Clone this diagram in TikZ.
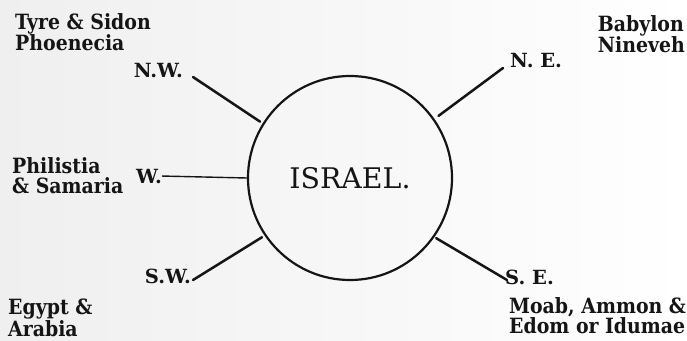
\documentclass[tikz,border=0pt]{standalone}
\usepackage{fontspec}
\usetikzlibrary{positioning, calc}
\newfontfamily\labelfont[FakeStretch=0.9]{DejaVu Serif Bold}
\newfontfamily\pointfont{DejaVu Serif Bold}
\newfontfamily\titlefont{DejaVu Serif}
\definecolor{inkblack}{HTML}{151515}
\definecolor{paper}{HTML}{efefef}

\begin{document}
\begin{tikzpicture}[x=1pt, y=-1pt,
  place/.style={inner sep=0pt, text=inkblack, font=\labelfont\fontsize{21}{20.5}\selectfont, align=left},
  point/.style={inner sep=0pt, text=inkblack, font=\pointfont\fontsize{19.5}{20}\selectfont},
  spoke/.style={draw=inkblack, line width=2.5pt, line cap=round, shorten >=3pt}
]
\shade[left color=paper, right color=white] (0,0) rectangle (687,340);
\useasboundingbox (0,0) rectangle (687,340);
\node[circle, draw=inkblack, line width=2.2pt, minimum size=204pt, text=inkblack,
  font=\titlefont\fontsize{28.4}{30}\selectfont] (israel) at (350,178) {ISRAEL.};
% compass points
\node[point, anchor=base east] (nw) at (183,77) {N.W.};
\node[point, anchor=base west] (ne) at (510,67) {N. E.};
\node[point, anchor=base east] (w) at (162,183) {W.};
\node[point, anchor=base east] (sw) at (191,283) {S.W.};
\node[point, anchor=base west] (se) at (505,284) {S. E.};
% lands round about
\node[place, anchor=north west] (tyre) at (15,13) {Tyre \& Sidon\\Phoenecia};
\node[place, anchor=north east] (babylon) at (685,15) {Babylon\\Nineveh};
\node[place, anchor=north west] (philistia) at (12,157) {Philistia\\\& Samaria};
\node[place, anchor=north west] (egypt) at (8,299) {Egypt \&\\Arabia};
\node[place, anchor=north west] (moab) at (509,297) {Moab, Ammon \&\\Edom or Idumae};
% free ends of the spokes
\coordinate (nwend) at (193,77);
\coordinate (neend) at (503,68);
\coordinate (swend) at (193,280);
\coordinate (seend) at (507,280);
\draw[spoke] (nwend) -- (israel.148);
\draw[spoke, shorten >=5pt] (neend) -- (israel.35);
\draw[spoke] (swend) -- (israel.214);
\draw[spoke, shorten >=2pt] (seend) -- (israel.325);
\draw[draw=inkblack, line width=1.4pt] (w.east) -- (israel.west);
\end{tikzpicture}
\end{document}
